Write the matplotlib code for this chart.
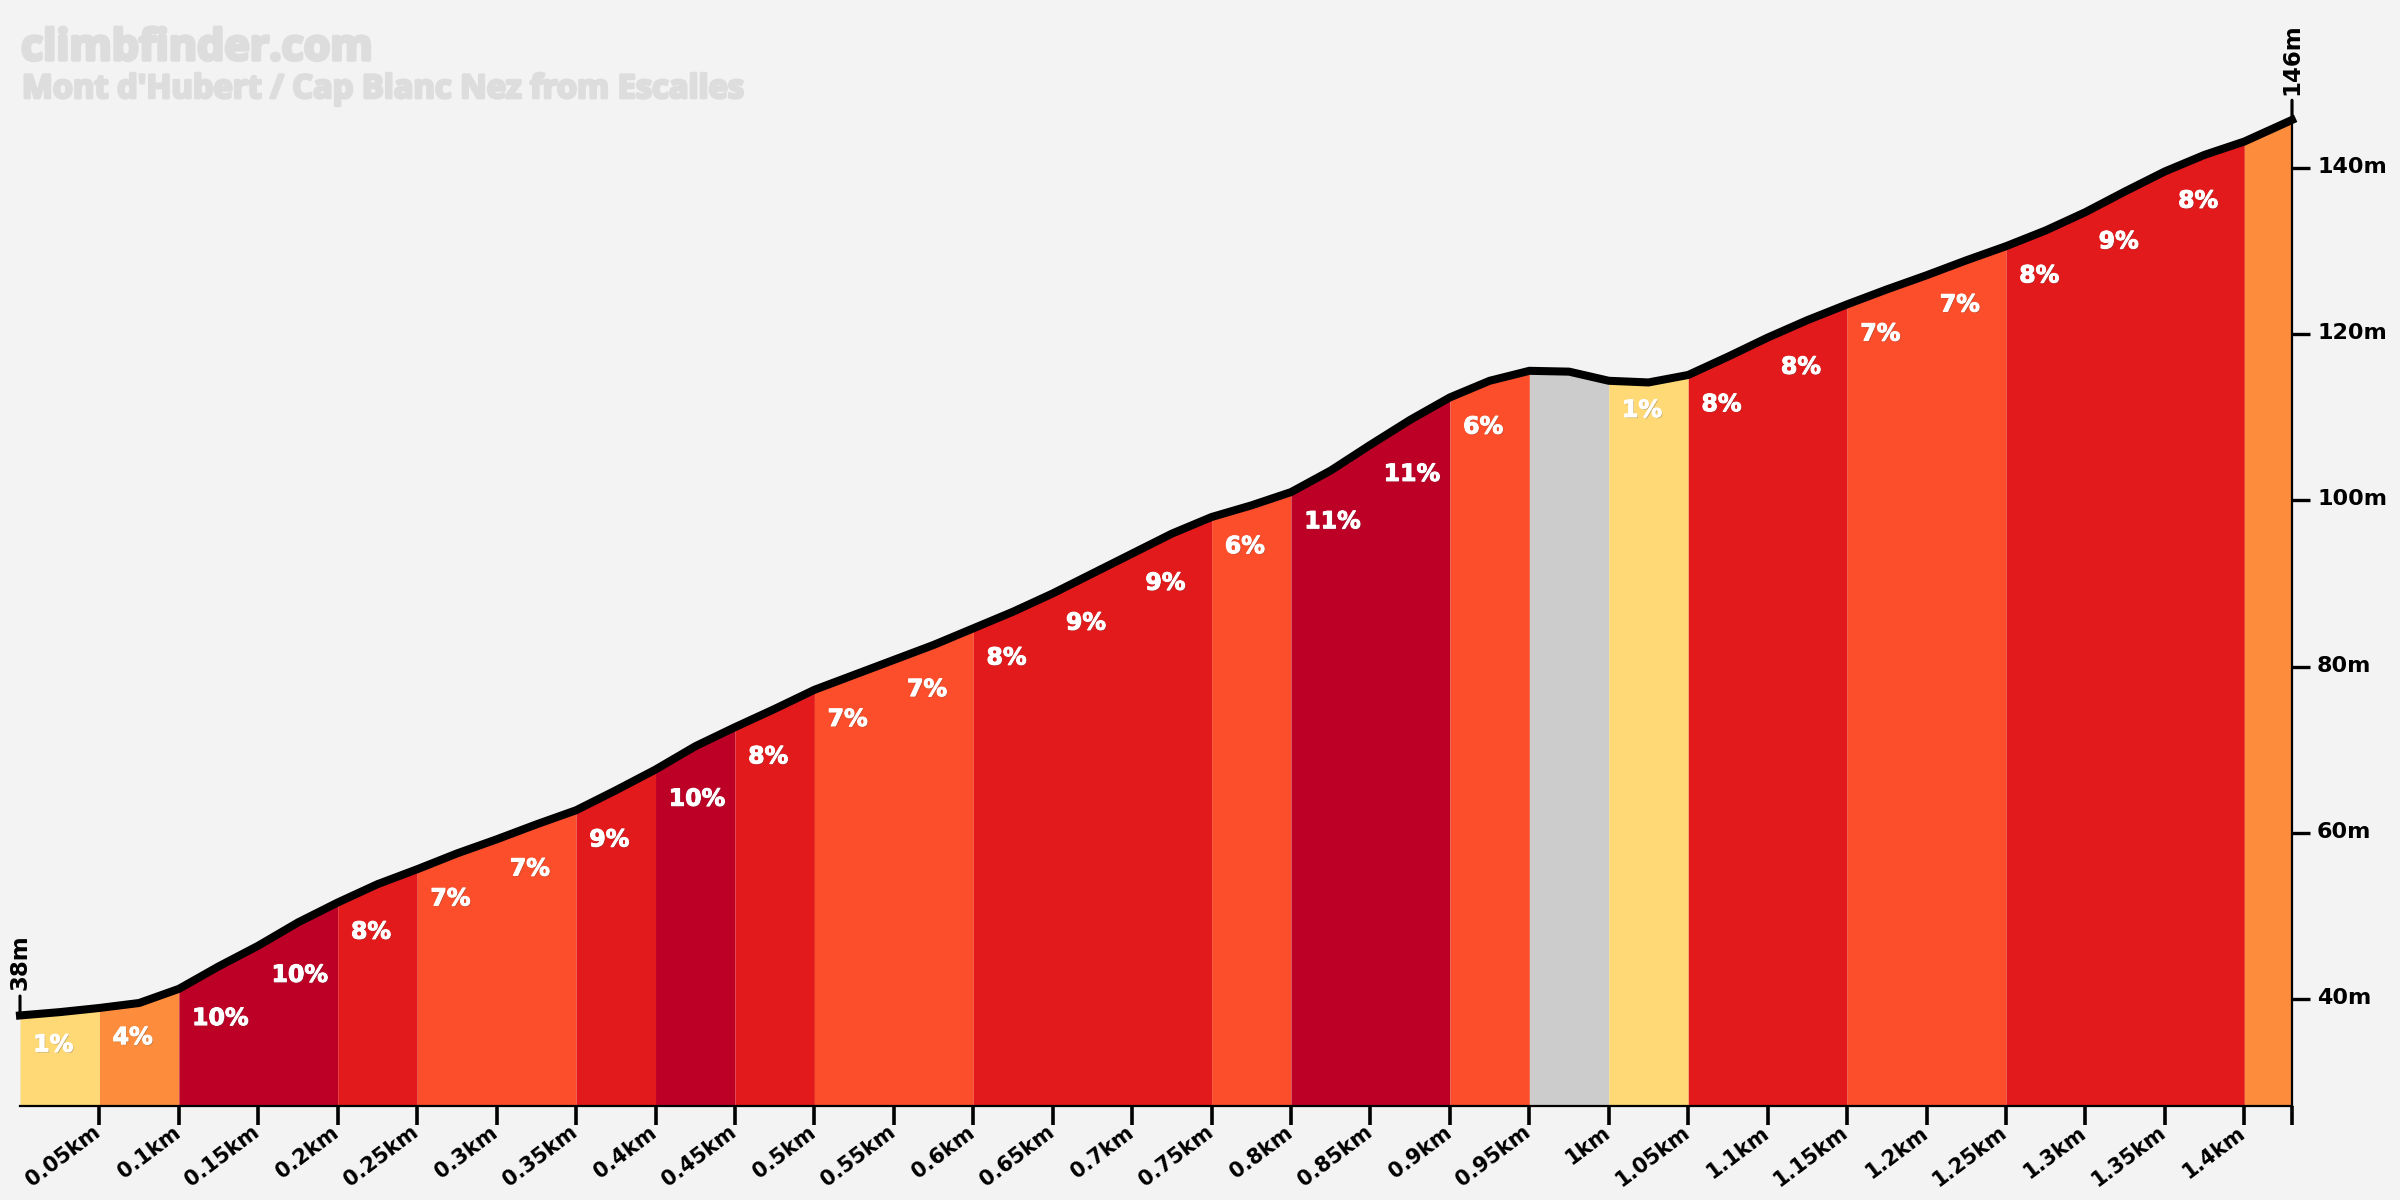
import matplotlib
matplotlib.use("Agg")
import matplotlib.pyplot as plt
import matplotlib.patheffects as pe
from matplotlib.transforms import ScaledTranslation

# elevation profile
km = [0, 0.025, 0.05, 0.075, 0.1, 0.125, 0.15, 0.175, 0.2, 0.225, 0.25, 0.275,
      0.3, 0.325, 0.35, 0.375, 0.4, 0.425, 0.45, 0.475, 0.5, 0.525, 0.55, 0.575,
      0.6, 0.625, 0.65, 0.675, 0.7, 0.725, 0.75, 0.775, 0.8, 0.825, 0.85, 0.875,
      0.9, 0.925, 0.95, 0.975, 1.0, 1.025, 1.05, 1.075, 1.1, 1.125, 1.15, 1.175,
      1.2, 1.225, 1.25, 1.275, 1.3, 1.325, 1.35, 1.375, 1.4, 1.43]
elevation = [38.0, 38.4, 38.9, 39.5, 41.2, 43.9, 46.4, 49.2, 51.6, 53.8, 55.6, 57.5,
             59.2, 61.0, 62.7, 65.1, 67.6, 70.4, 72.7, 74.9, 77.2, 79.0, 80.8, 82.6,
             84.6, 86.6, 88.8, 91.2, 93.6, 96.0, 98.0, 99.4, 101.0, 103.6, 106.7, 109.7,
             112.4, 114.4, 115.6, 115.5, 114.4, 114.2, 115.1, 117.3, 119.6, 121.7, 123.6, 125.4,
             127.1, 128.9, 130.6, 132.5, 134.7, 137.2, 139.6, 141.6, 143.2, 145.8]

segment_starts = [0, 0.05, 0.1, 0.15, 0.2, 0.25, 0.3, 0.35, 0.4, 0.45, 0.5, 0.55, 0.6, 0.65, 0.7,
                  0.75, 0.8, 0.85, 0.9, 0.95, 1.0, 1.05, 1.1, 1.15, 1.2, 1.25, 1.3, 1.35, 1.4]
segment_ends = segment_starts[1:] + [1.43]
gradients = [1, 4, 10, 10, 8, 7, 7, 9, 10, 8, 7, 7, 8, 9, 9,
             6, 11, 11, 6, 0, 1, 8, 8, 7, 7, 8, 9, 8, 4]
hidden_labels = [0.95, 1.4]

x_ticks = [0.05, 0.1, 0.15, 0.2, 0.25, 0.3, 0.35, 0.4, 0.45, 0.5, 0.55, 0.6, 0.65, 0.7, 0.75,
           0.8, 0.85, 0.9, 0.95, 1, 1.05, 1.1, 1.15, 1.2, 1.25, 1.3, 1.35, 1.4, 1.43]
x_labels = ["0.05km", "0.1km", "0.15km", "0.2km", "0.25km", "0.3km", "0.35km", "0.4km",
            "0.45km", "0.5km", "0.55km", "0.6km", "0.65km", "0.7km", "0.75km", "0.8km",
            "0.85km", "0.9km", "0.95km", "1km", "1.05km", "1.1km", "1.15km", "1.2km",
            "1.25km", "1.3km", "1.35km", "1.4km", ""]
y_ticks = [40, 60, 80, 100, 120, 140]
y_labels = ["40m", "60m", "80m", "100m", "120m", "140m"]

BG = "#F3F3F3"
TITLE_GREY = "#DDDDDD"


def grade_colour(grade):
    if grade == 0:
        return "#CCCCCC"
    if grade <= 3:
        return "#FED976"
    if grade <= 5:
        return "#FD8D3C"
    if grade <= 7:
        return "#FC4E2A"
    if grade <= 9:
        return "#E31A1C"
    return "#BD0026"


fig = plt.figure(figsize=(24, 12), dpi=100, facecolor=BG)
ax = fig.add_axes([20 / 2400, (1200 - 1106) / 1200, 2272 / 2400, 1006 / 1200], facecolor=BG)
ax.set_xlim(0, 1.43)
ax.set_ylim(27.1, 148.2)

# neighbouring segments of one colour are filled as one piece, so no seam shows
run_start = 0
for i, grade in enumerate(gradients):
    colour = grade_colour(grade)
    if i + 1 < len(gradients) and grade_colour(gradients[i + 1]) == colour:
        continue
    lo, hi = segment_starts[run_start], segment_ends[i]
    xs = [k for k in km if lo <= k <= hi]
    ys = [e for k, e in zip(km, elevation) if lo <= k <= hi]
    ax.fill_between(xs, ys, 27.1, color=colour, linewidth=0)
    run_start = i + 1

for start, grade in zip(segment_starts, gradients):
    if start in hidden_labels:
        continue
    ax.annotate(f"{grade}%", xy=(start, elevation[km.index(start)]), xytext=(9.5, -21),
                textcoords="offset points", color="white", fontsize=17,
                fontweight="bold", ha="left", va="center",
                path_effects=[pe.withSimplePatchShadow(offset=(0.8, -0.8), alpha=0.3),
                              pe.withStroke(linewidth=0.7, foreground="white")])

ax.plot(km, elevation, color="black", linewidth=5.8, solid_capstyle="projecting",
        solid_joinstyle="round", clip_on=False, zorder=5)

# start and end height markers
for k, e, label in [(km[0], elevation[0], "38m"), (km[-1], elevation[-1], "146m")]:
    ax.annotate("", xy=(k, e), xytext=(0, 14), textcoords="offset points",
                arrowprops=dict(arrowstyle="-", lw=2.2, color="black", shrinkA=0, shrinkB=0),
                annotation_clip=False)
    ax.annotate(label, xy=(k, e), xytext=(0, 18), textcoords="offset points", rotation=90,
                ha="center", va="bottom", fontsize=16.5, fontweight="bold", color="black",
                annotation_clip=False)

for side in ["top", "left"]:
    ax.spines[side].set_visible(False)
for side in ["right", "bottom"]:
    ax.spines[side].set_linewidth(1.6)
    ax.spines[side].set_zorder(6)

ax.set_xticks(x_ticks)
ax.set_xticklabels(x_labels, rotation=37, ha="right", va="top", rotation_mode="anchor",
                   fontsize=15, fontweight="bold")
ax.tick_params(axis="x", length=13.5, width=2.6, pad=1)
x_shift = ScaledTranslation(-0.07, 0.04, fig.dpi_scale_trans)
for label in ax.get_xticklabels():
    label.set_transform(label.get_transform() + x_shift)

ax.yaxis.tick_right()
ax.set_yticks(y_ticks)
ax.set_yticklabels(y_labels, fontsize=16, fontweight="bold")
ax.tick_params(axis="y", length=13, width=2.4, pad=5)
y_shift = ScaledTranslation(0, 0.03, fig.dpi_scale_trans)
for label in ax.get_yticklabels():
    label.set_transform(label.get_transform() + y_shift)

fig.text(21 / 2400, 1 - 60 / 1200, "climbfinder.com", color=TITLE_GREY, fontsize=31,
         family="Open Sans", fontweight="bold", ha="left", va="baseline",
         path_effects=[pe.withStroke(linewidth=2.5, foreground=TITLE_GREY)])
fig.text(22 / 2400, 1 - 98 / 1200, "Mont d'Hubert / Cap Blanc Nez from Escalles", color=TITLE_GREY,
         fontsize=23.5, family="Open Sans", fontweight="bold", ha="left", va="baseline",
         path_effects=[pe.withStroke(linewidth=2, foreground=TITLE_GREY)])

fig.savefig("out.png", dpi=100, facecolor=BG)
